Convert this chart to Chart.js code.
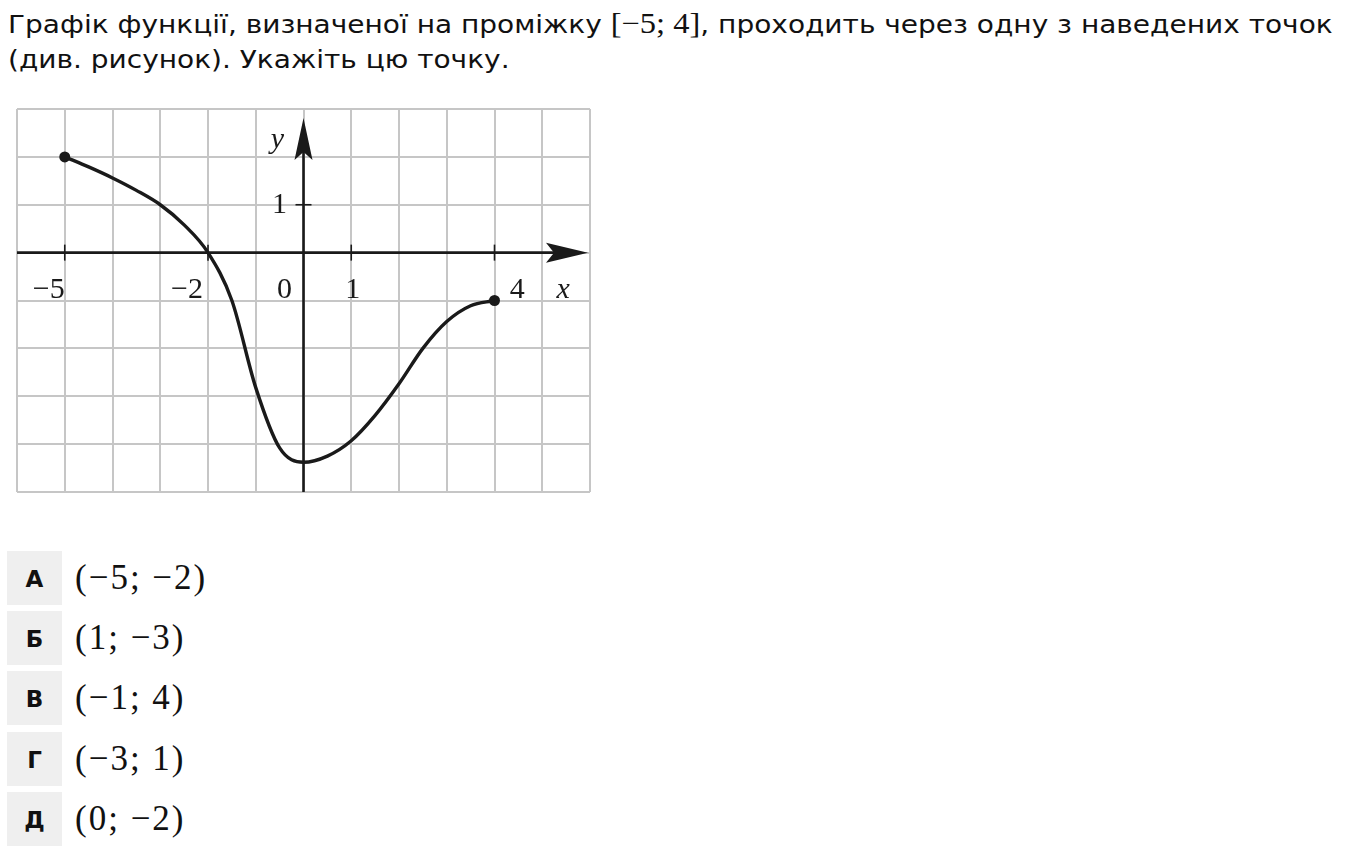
<!DOCTYPE html>
<html>
<head>
<meta charset="utf-8">
<script src="https://cdn.jsdelivr.net/npm/chart.js@4"></script>
<style>
  body { margin: 0; background: #fff; width: 1346px; height: 858px; overflow: hidden; position: relative; }
  .q { position: absolute; left: 8px; font-family: "DejaVu Sans", sans-serif; font-size: 25px; color: #111; white-space: nowrap; line-height: 30px; transform: scaleX(1.12); transform-origin: 0 0; }
  .m { font-family: "Liberation Serif", serif; font-size: 29px; }
  #wrap { position: absolute; left: 0; top: 92px; width: 610px; height: 420px; }
  .opt { position: absolute; left: 7px; height: 54px; }
  .opt .b { position: absolute; left: 0; top: 0; width: 55px; height: 54px; background: #efefef; font-family: "DejaVu Sans", sans-serif; font-weight: bold; font-size: 23px; line-height: 56px; text-align: center; color: #111; }
  .opt .t { position: absolute; left: 68px; top: 0; font-family: "Liberation Serif", serif; font-size: 35px; letter-spacing: 2px; line-height: 54px; white-space: nowrap; color: #111; }
</style>
</head>
<body>
<div class="q" style="top:8px">Графік функції, визначеної на проміжку <span class="m">[−5; 4]</span>, проходить через одну з наведених точок</div>
<div class="q" style="top:45px">(див. рисунок). Укажіть цю точку.</div>
<div id="wrap"><canvas id="graf" width="610" height="420"></canvas></div>
<div id="opciones"></div>
<script>
// Дані графіка
const curveX = [-5, -4.5, -4, -3.5, -3, -2.5, -2, -1.5, -1, -0.5, 0, 0.5, 1, 1.5, 2, 2.5, 3, 3.5, 4];
const curveY = [2, 1.79, 1.56, 1.3, 1.0, 0.58, 0, -1, -2.82, -4.08, -4.38, -4.25, -3.93, -3.4, -2.74, -2.0, -1.44, -1.11, -1.0];
const endX = [-5, 4];
const endY = [2, -1];
const xTickValues = [-5, -2, 0, 1, 4];
const xTickLabels = ['−5', '−2', '0', '1', '4'];
const yTickValues = [1];
const yTickLabels = ['1'];
const optLetters = ['А', 'Б', 'В', 'Г', 'Д'];
const optTexts = ['(−5; −2)', '(1; −3)', '(−1; 4)', '(−3; 1)', '(0; −2)'];

// варіанти відповідей
const cont = document.getElementById('opciones');
optLetters.forEach((l, i) => {
    const d = document.createElement('div');
    d.className = 'opt';
    d.style.top = (551 + i * 60.2) + 'px';
    d.innerHTML = '<div class="b">' + l + '</div><div class="t">' + optTexts[i] + '</div>';
    cont.appendChild(d);
});

// зсуви підписів у пікселях
const xLabelShift = [-16, -21, -19, 1.5, 22.7];

const ejes = {
    id: 'ejes',
    beforeDatasetsDraw(chart) {
        const ctx = chart.ctx;
        const xs = chart.scales.x, ys = chart.scales.y;
        const a = chart.chartArea;
        const x0 = xs.getPixelForValue(0), y0 = ys.getPixelForValue(0);
        ctx.save();
        ctx.strokeStyle = '#1a1a1a';
        ctx.fillStyle = '#1a1a1a';
        ctx.lineWidth = 2.6;
        // вісь x
        ctx.beginPath();
        ctx.moveTo(a.left, y0);
        ctx.lineTo(a.right - 20, y0);
        ctx.stroke();
        // вісь y
        ctx.beginPath();
        ctx.moveTo(x0, a.bottom);
        ctx.lineTo(x0, a.top + 30);
        ctx.stroke();
        // стрілки
        const tipX = a.right - 2, tipY = a.top + 9;
        ctx.beginPath();
        ctx.moveTo(tipX, y0);
        ctx.lineTo(tipX - 42, y0 - 10);
        ctx.lineTo(tipX - 34, y0);
        ctx.lineTo(tipX - 42, y0 + 10);
        ctx.closePath();
        ctx.fill();
        ctx.beginPath();
        ctx.moveTo(x0, tipY);
        ctx.lineTo(x0 - 9, tipY + 42);
        ctx.lineTo(x0, tipY + 34);
        ctx.lineTo(x0 + 9, tipY + 42);
        ctx.closePath();
        ctx.fill();
        // поділки
        ctx.lineWidth = 1.6;
        xTickValues.forEach(v => {
            if (v === 0) return;
            const px = xs.getPixelForValue(v);
            ctx.beginPath();
            ctx.moveTo(px, y0 - 8);
            ctx.lineTo(px, y0 + 8);
            ctx.stroke();
        });
        yTickValues.forEach(v => {
            const py = ys.getPixelForValue(v);
            ctx.beginPath();
            ctx.moveTo(x0 - 8, py);
            ctx.lineTo(x0 + 8, py);
            ctx.stroke();
        });
        // підписи
        ctx.font = '30px "Liberation Serif", serif';
        ctx.textAlign = 'center';
        ctx.textBaseline = 'alphabetic';
        const yLab = y0 + 45;
        xTickValues.forEach((v, i) => {
            ctx.fillText(xTickLabels[i], xs.getPixelForValue(v) + xLabelShift[i], yLab);
        });
        ctx.textBaseline = 'middle';
        yTickValues.forEach((v, i) => {
            ctx.fillText(yTickLabels[i], x0 - 24, ys.getPixelForValue(v));
        });
        ctx.font = 'italic 30px "Liberation Serif", serif';
        ctx.textBaseline = 'alphabetic';
        ctx.fillText('x', xs.getPixelForValue(5) + 21, yLab);
        ctx.fillText('y', x0 - 26, ys.getPixelForValue(2) - 9);
        ctx.restore();
    }
};

const ctxGraf = document.getElementById('graf').getContext('2d');
const graf = new Chart(ctxGraf, {
    type: 'scatter',
    data: {
        datasets: [{
            data: curveX.map((x, i) => ({ x: x, y: curveY[i] })),
            showLine: true,
            borderColor: '#1a1a1a',
            borderWidth: 3.4,
            pointRadius: 0,
            cubicInterpolationMode: 'monotone'
        }, {
            data: endX.map((x, i) => ({ x: x, y: endY[i] })),
            showLine: false,
            pointRadius: 5.5,
            backgroundColor: '#1a1a1a',
            borderColor: '#1a1a1a',
            borderWidth: 0
        }]
    },
    options: {
        responsive: false,
        animation: false,
        devicePixelRatio: 1,
        layout: { padding: { left: 17, top: 17, right: 20, bottom: 20 } },
        plugins: { legend: { display: false }, tooltip: { enabled: false } },
        scales: {
            x: {
                type: 'linear', min: -6, max: 6,
                ticks: { display: false, stepSize: 1 },
                grid: { color: '#c6c6c6', lineWidth: 2, drawTicks: false },
                border: { display: false }
            },
            y: {
                type: 'linear', min: -5, max: 3,
                ticks: { display: false, stepSize: 1 },
                grid: { color: '#c6c6c6', lineWidth: 2, drawTicks: false },
                border: { display: false }
            }
        }
    },
    plugins: [ejes]
});
</script>
</body>
</html>
